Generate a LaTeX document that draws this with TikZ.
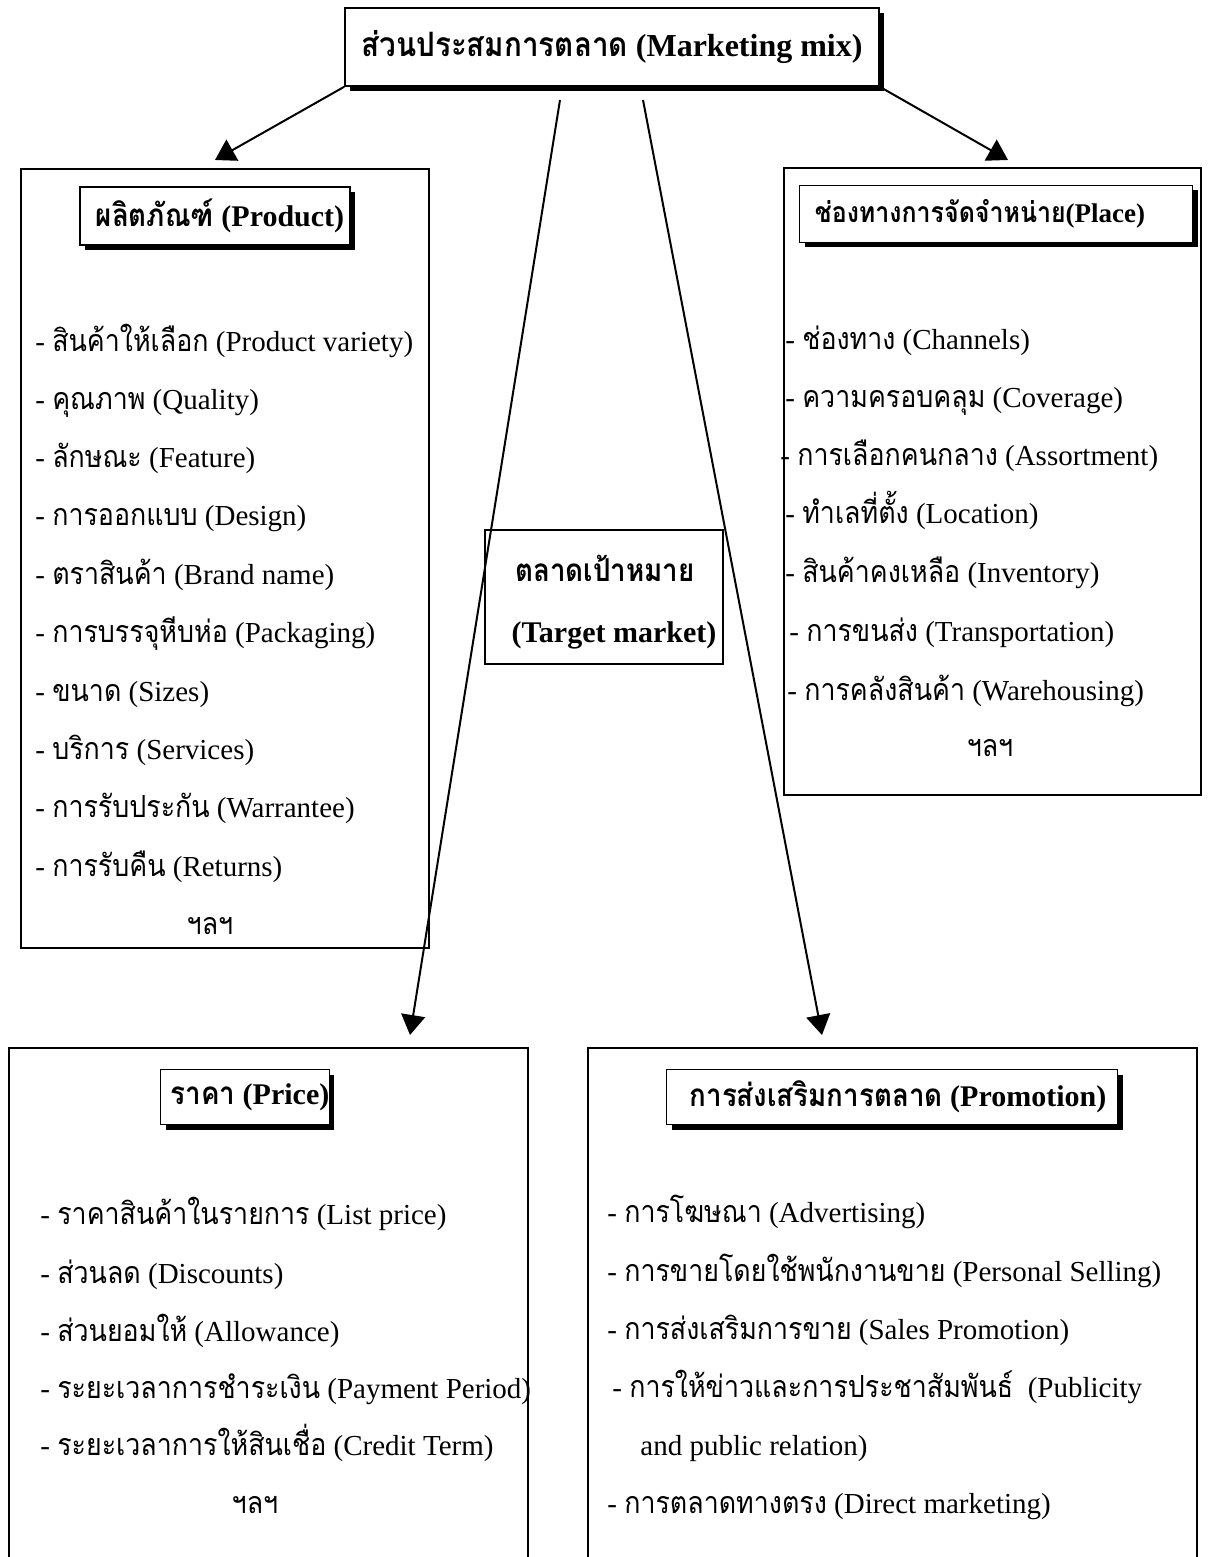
\documentclass[tikz,border=0pt]{standalone}
\usepackage{fontspec}
\setmainfont{Liberation Serif}
\newfontfamily\thaifont[Script=Thai,Scale=1.05,FakeStretch=0.88]{Loma}
\newcommand{\tht}[1]{{\thaifont #1}}
\usetikzlibrary{arrows.meta,shadows}
\tikzset{
  outerbox/.style={draw,line width=1pt,inner sep=0pt,anchor=north west},
  titlebox/.style={draw,fill=white,line width=0.8pt,inner sep=0pt,
    drop shadow={shadow xshift=2.5pt,shadow yshift=-2.5pt,opacity=1,fill=black},
    font=\fontsize{15}{18}\selectfont\bfseries},
  item/.style={anchor=base west,inner sep=0pt,font=\fontsize{14.5}{17}\selectfont},
  etc/.style={anchor=base,inner sep=0pt,font=\fontsize{14.5}{17}\selectfont},
  arr/.style={line width=1pt,-{Triangle[width=12pt,length=10pt]}},
}
\begin{document}
\begin{tikzpicture}[x=0.5pt,y=0.5pt,yscale=-1,xscale=1]
\useasboundingbox (0,0) rectangle (1218,1557);

%Shape: Rectangle [mix]
\node[titlebox,minimum width=267pt,minimum height=39pt,font=\fontsize{16}{19}\selectfont\bfseries] (mix) at (612,47) {\tht{ส่วนประสมการตลาด} (Marketing mix)};

%Shape: Rectangle [product]
\node[outerbox,minimum width=204pt,minimum height=389.5pt] (product) at (20,168) {};
\node[titlebox,minimum width=135pt,minimum height=29pt] (producttitle) at (215,216) {\hspace*{5pt}\tht{ผลิตภัณฑ์} (Product)};

% Text Node
\node[item] (p1) at (35,351) {- \tht{สินค้าให้เลือก} (Product variety)};
\node[item] (p2) at (35,409) {- \tht{คุณภาพ} (Quality)};
\node[item] (p3) at (35,467) {- \tht{ลักษณะ} (Feature)};
\node[item] (p4) at (35,525) {- \tht{การออกแบบ} (Design)};
\node[item] (p5) at (35,584) {- \tht{ตราสินค้า} (Brand name)};
\node[item] (p6) at (35,642) {- \tht{การบรรจุหีบห่อ} (Packaging)};
\node[item] (p7) at (35,701) {- \tht{ขนาด} (Sizes)};
\node[item] (p8) at (35,759) {- \tht{บริการ} (Services)};
\node[item] (p9) at (35,817) {- \tht{การรับประกัน} (Warrantee)};
\node[item] (p10) at (35,876) {- \tht{การรับคืน} (Returns)};
\node[etc] (petc) at (210,934) {\tht{ฯลฯ}};

%Shape: Rectangle [place]
\node[outerbox,minimum width=208.5pt,minimum height=313.5pt] (place) at (783,167) {};
\node[titlebox,minimum width=196.5pt,minimum height=28.5pt,font=\fontsize{13.5}{16}\selectfont\bfseries] (placetitle) at (996,214) {\tht{ช่องทางการจัดจำหน่าย}(Place)\hspace*{16pt}};

% Text Node
\node[item] (l1) at (785,349) {- \tht{ช่องทาง} (Channels)};
\node[item] (l2) at (785,407) {- \tht{ความครอบคลุม} (Coverage)};
\node[item] (l3) at (780,465) {- \tht{การเลือกคนกลาง} (Assortment)};
\node[item] (l4) at (785,523) {- \tht{ทำเลที่ตั้ง} (Location)};
\node[item] (l5) at (785,582) {- \tht{สินค้าคงเหลือ} (Inventory)};
\node[item] (l6) at (789,641) {- \tht{การขนส่ง} (Transportation)};
\node[item] (l7) at (787,700) {- \tht{การคลังสินค้า} (Warehousing)};
\node[etc] (letc) at (990,756) {\tht{ฯลฯ}};

%Shape: Rectangle [target]
\node[draw,line width=0.8pt,minimum width=119pt,minimum height=67pt,inner sep=0pt] (target) at (604,597) {};
\node[etc,font=\fontsize{15}{18}\selectfont\bfseries] (target1) at (605,581) {\tht{ตลาดเป้าหมาย}};
\node[etc,font=\fontsize{15}{18}\selectfont\bfseries] (target2) at (614,642) {(Target market)};

%Shape: Rectangle [price]
\node[outerbox,minimum width=259.5pt,minimum height=270pt] (price) at (8,1047) {};
\node[titlebox,minimum width=82pt,minimum height=27.5pt] (pricetitle) at (245,1097) {\hspace*{5pt}\tht{ราคา} (Price)};

% Text Node
\node[item] (r1) at (40,1224) {- \tht{ราคาสินค้าในรายการ} (List price)};
\node[item] (r2) at (40,1283) {- \tht{ส่วนลด} (Discounts)};
\node[item] (r3) at (40,1341) {- \tht{ส่วนยอมให้} (Allowance)};
\node[item] (r4) at (40,1398) {- \tht{ระยะเวลาการชำระเงิน} (Payment Period)};
\node[item] (r5) at (40,1455) {- \tht{ระยะเวลาการให้สินเชื่อ} (Credit Term)};
\node[etc] (retc) at (255,1513) {\tht{ฯลฯ}};

%Shape: Rectangle [promotion]
\node[outerbox,minimum width=304.5pt,minimum height=270pt] (promotion) at (587,1047) {};
\node[titlebox,minimum width=225.5pt,minimum height=27.5pt] (promotiontitle) at (892,1097) {\hspace*{6pt}\tht{การส่งเสริมการตลาด} (Promotion)};

% Text Node
\node[item] (m1) at (607,1222) {- \tht{การโฆษณา} (Advertising)};
\node[item] (m2) at (607,1281) {- \tht{การขายโดยใช้พนักงานขาย} (Personal Selling)};
\node[item] (m3) at (607,1339) {- \tht{การส่งเสริมการขาย} (Sales Promotion)};
\node[item] (m4) at (612,1397) {- \tht{การให้ข่าวและการประชาสัมพันธ์}\ \ (Publicity};
\node[item] (m5) at (640,1455) {and public relation)};
\node[item] (m6) at (607,1513) {- \tht{การตลาดทางตรง} (Direct marketing)};

%Straight Lines
\coordinate (producttip) at (215,160);
\coordinate (placetip) at (1008,160);
\coordinate (pricestart) at (560,100);
\coordinate (pricetip) at (410,1035);
\coordinate (promostart) at (643,100);
\coordinate (promotip) at (822,1035);
\draw[arr] (mix.south west) -- (producttip);
\draw[arr] (mix.south east) -- (placetip);
\draw[arr] (pricestart) -- (pricetip);
\draw[arr] (promostart) -- (promotip);

\end{tikzpicture}
\end{document}
